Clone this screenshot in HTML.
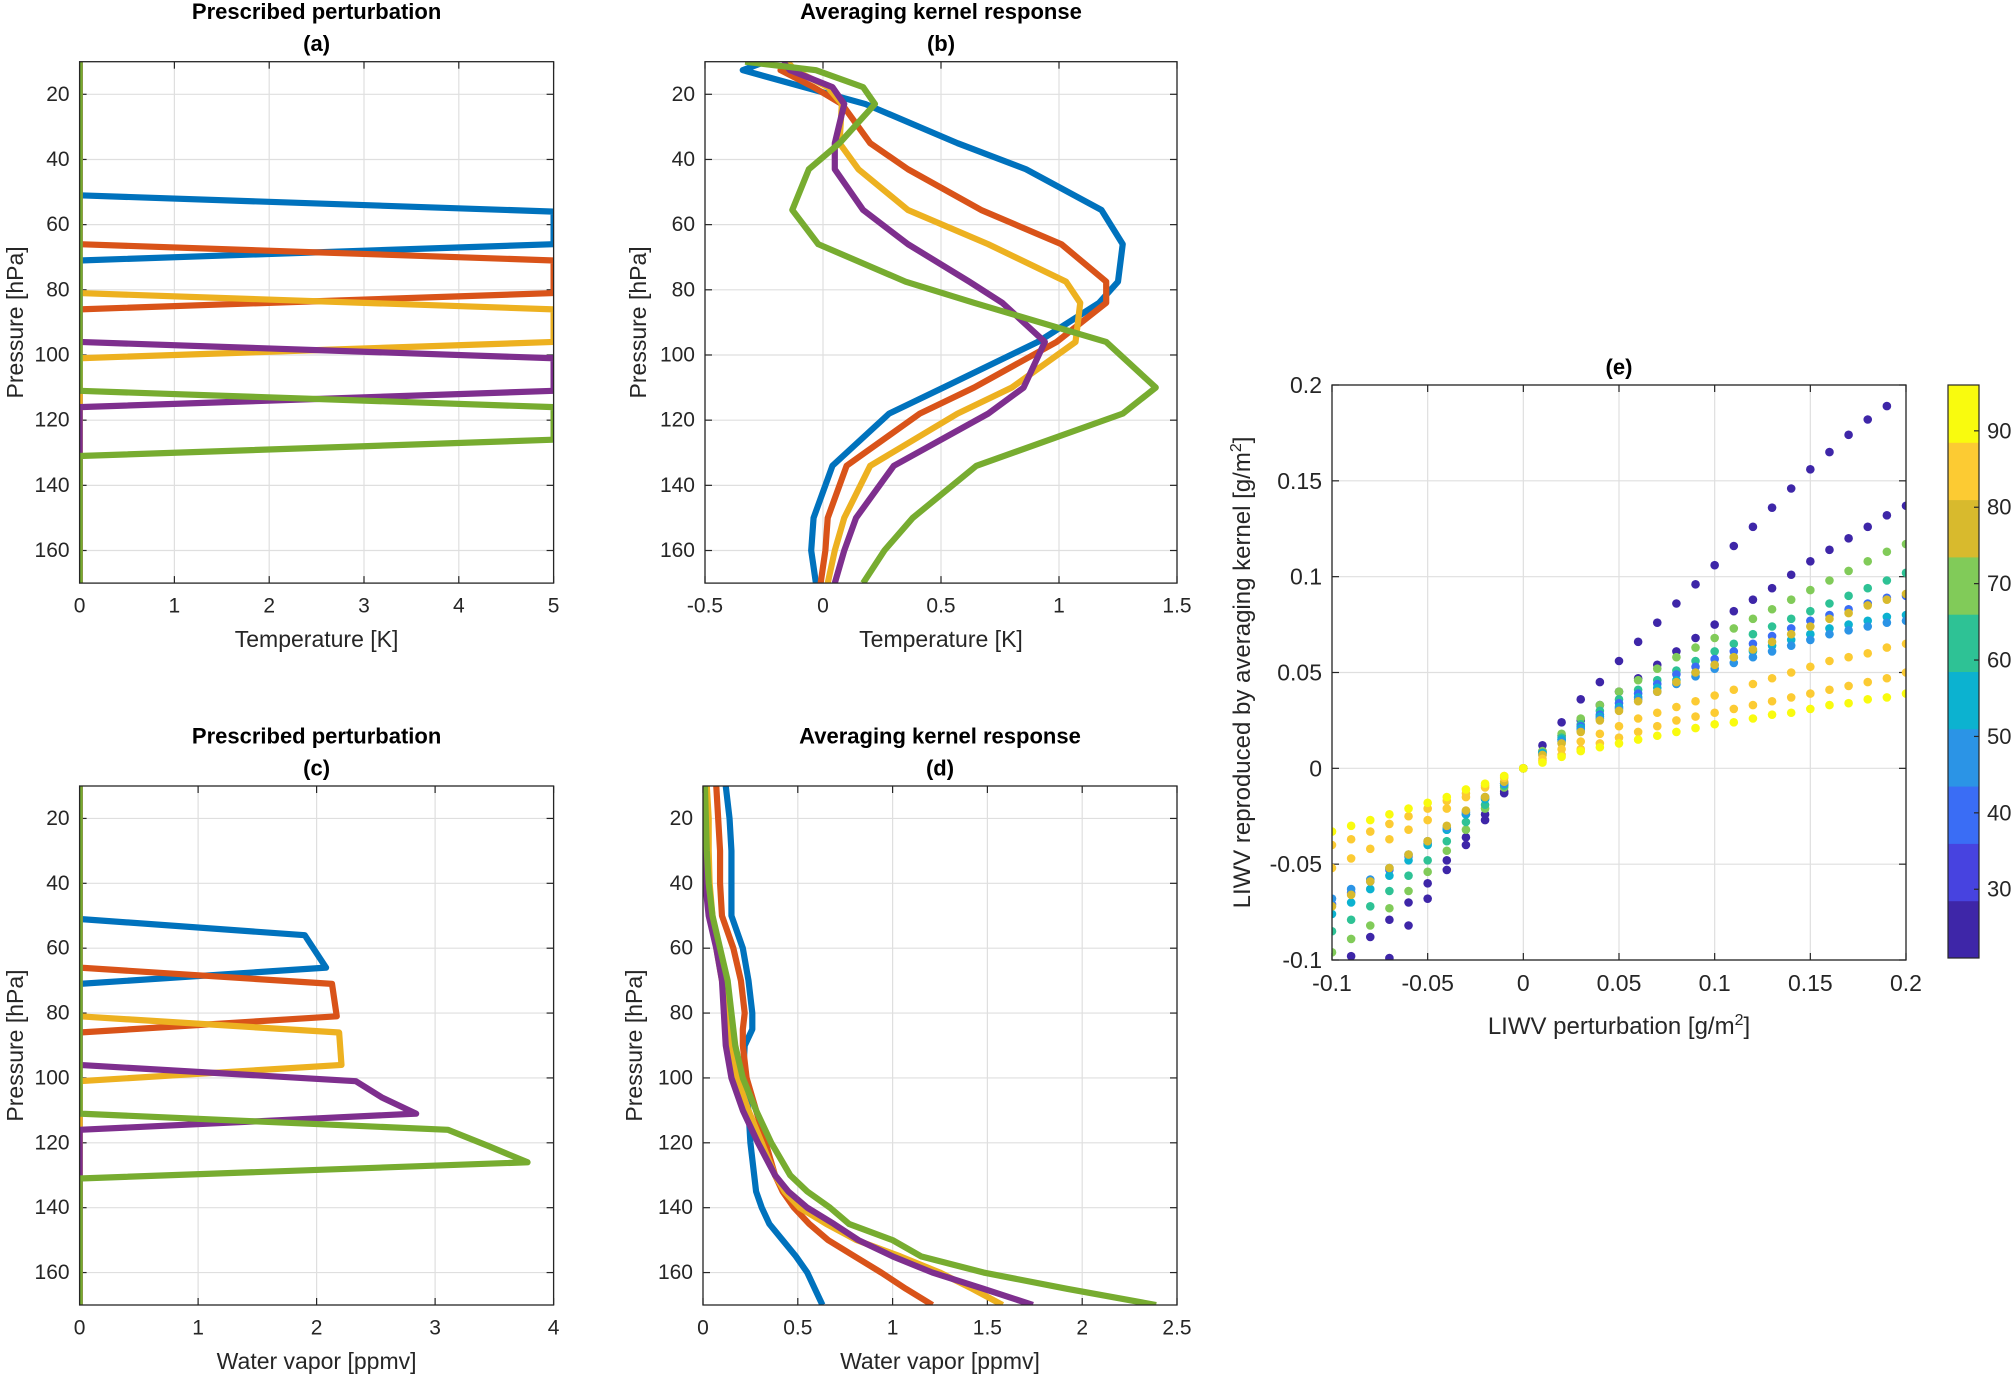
<!DOCTYPE html>
<html><head><meta charset="utf-8">
<style>
html,body{margin:0;padding:0;background:#fff;}
svg{display:block;font-family:"Liberation Sans",Arial,sans-serif;}
</style></head>
<body>
<svg id="fig" width="2014" height="1376" viewBox="0 0 2014 1376" xmlns="http://www.w3.org/2000/svg"></svg>
<script>
// ---------- data ----------
const lineColors = ['#0072bd','#d95319','#edb120','#7e2f8e','#77ac30'];
const seriesNames = ['blue','red','yellow','purple','green'];

// Panel a: temperature perturbation
const aP = [[10,51,56,66,71,170],[10,66,71,81,86,170],[10,81,86,96,101,170],[10,96,101,111,116,170],[10,111,116,126,131,170]];
const aV = [[0,0,5,5,0,0],[0,0,5,5,0,0],[0,0,5,5,0,0],[0,0,5,5,0,0],[0,0,5,5,0,0]];

// Panel b: averaging kernel temperature response
const bP = [10,12.6,17.8,23,35,43,55.5,66,77.5,84,96,110,118,134,150,160,170];
const bBlue   = [-0.245,-0.34,-0.08,0.18,0.57,0.86,1.18,1.27,1.25,1.17,0.91,0.51,0.28,0.04,-0.04,-0.05,-0.03];
const bRed    = [-0.14,-0.18,-0.04,0.08,0.2,0.36,0.67,1.01,1.2,1.2,0.99,0.64,0.41,0.10,0.02,0.01,-0.01];
const bYellow = [-0.15,-0.12,0.02,0.08,0.07,0.15,0.36,0.7,1.03,1.09,1.07,0.8,0.57,0.2,0.09,0.05,0.02];
const bPurple = [-0.17,-0.14,0.04,0.09,0.05,0.05,0.17,0.36,0.62,0.76,0.94,0.85,0.7,0.3,0.14,0.09,0.05];
const bGreen  = [-0.33,-0.03,0.17,0.22,0.07,-0.06,-0.13,-0.02,0.35,0.64,1.2,1.41,1.27,0.65,0.38,0.26,0.17];

// Panel c: water vapour perturbation
const cP = [[10,51,56,66,71,170],[10,66,71,81,86,170],[10,81,86,96,101,170],[10,96,101,106,111,116,170],[10,111,116,121,126,131,170]];
const cV = [[0,0,1.9,2.08,0,0],[0,0,2.13,2.17,0,0],[0,0,2.19,2.21,0,0],[0,0,2.33,2.55,2.84,0,0],[0,0,3.11,3.45,3.78,0,0]];

// Panel d: averaging kernel water vapour response
const dP = [10,20,30,40,50,60,70,80,85,90,100,110,120,130,135,140,145,150,155,160,165,170];
const dBlue   = [0.12,0.14,0.15,0.15,0.15,0.21,0.24,0.26,0.26,0.22,0.21,0.24,0.25,0.27,0.28,0.31,0.35,0.42,0.49,0.55,0.59,0.63];
const dRed    = [0.07,0.08,0.09,0.09,0.10,0.16,0.20,0.22,0.21,0.21,0.23,0.28,0.33,0.38,0.42,0.48,0.56,0.66,0.80,0.94,1.07,1.21];
const dYellow = [0.02,0.03,0.03,0.035,0.05,0.07,0.10,0.13,0.14,0.15,0.18,0.24,0.31,0.38,0.43,0.51,0.65,0.81,1.04,1.25,1.42,1.58];
const dPurple = [0.0,0.005,0.01,0.012,0.03,0.07,0.10,0.11,0.115,0.12,0.15,0.21,0.29,0.38,0.45,0.55,0.69,0.82,1.0,1.21,1.48,1.74];
const dGreen  = [0.01,0.015,0.02,0.03,0.05,0.09,0.13,0.15,0.16,0.17,0.21,0.28,0.36,0.46,0.55,0.67,0.77,1.0,1.15,1.48,1.92,2.39];

// Panel e: scatter
const eX = [-0.1,-0.09,-0.08,-0.07,-0.06,-0.05,-0.04,-0.03,-0.02,-0.01,0,0.01,0.02,0.03,0.04,0.05,0.06,0.07,0.08,0.09,0.1,0.11,0.12,0.13,0.14,0.15,0.16,0.17,0.18,0.19,0.2];
const eC = [23,26,70,62,38,54,47,76,84,86,93];
const eY = [
 [null,null,null,-0.099,-0.082,-0.068,-0.053,-0.040,-0.027,-0.013,0,0.012,0.024,0.036,0.045,0.056,0.066,0.076,0.086,0.096,0.106,0.116,0.126,0.136,0.146,0.156,0.165,0.174,0.182,0.189,null],
 [null,-0.098,-0.088,-0.079,-0.070,-0.060,-0.048,-0.036,-0.024,-0.012,0,0.009,0.017,0.025,0.033,0.040,0.047,0.054,0.061,0.068,0.075,0.082,0.088,0.094,0.101,0.108,0.114,0.120,0.126,0.132,0.137],
 [-0.096,-0.089,-0.082,-0.073,-0.064,-0.054,-0.043,-0.032,-0.021,-0.010,0,0.009,0.018,0.026,0.033,0.040,0.046,0.052,0.058,0.063,0.068,0.073,0.078,0.083,0.088,0.093,0.098,0.103,0.108,0.113,0.117],
 [-0.085,-0.079,-0.072,-0.064,-0.056,-0.048,-0.038,-0.028,-0.019,-0.009,0,0.008,0.016,0.023,0.030,0.036,0.041,0.046,0.051,0.056,0.061,0.065,0.070,0.074,0.078,0.082,0.086,0.090,0.094,0.098,0.102],
 [-0.071,-0.065,-0.059,-0.053,-0.046,-0.039,-0.032,-0.024,-0.016,-0.008,0,0.008,0.015,0.022,0.028,0.034,0.039,0.044,0.049,0.053,0.057,0.061,0.065,0.069,0.073,0.077,0.080,0.083,0.086,0.089,0.090],
 [-0.076,-0.070,-0.063,-0.056,-0.048,-0.040,-0.032,-0.024,-0.016,-0.008,0,0.008,0.015,0.021,0.027,0.032,0.037,0.042,0.046,0.050,0.054,0.058,0.061,0.064,0.067,0.070,0.073,0.075,0.077,0.079,0.080],
 [-0.068,-0.063,-0.058,-0.052,-0.045,-0.038,-0.031,-0.023,-0.015,-0.008,0,0.007,0.014,0.020,0.026,0.031,0.036,0.040,0.044,0.048,0.052,0.055,0.058,0.061,0.064,0.067,0.070,0.072,0.074,0.076,0.077],
 [-0.072,-0.066,-0.059,-0.052,-0.045,-0.038,-0.030,-0.022,-0.015,-0.007,0,0.007,0.013,0.019,0.025,0.030,0.035,0.040,0.045,0.050,0.054,0.058,0.062,0.066,0.070,0.074,0.078,0.081,0.085,0.088,0.091],
 [-0.052,-0.047,-0.042,-0.037,-0.032,-0.027,-0.021,-0.015,-0.010,-0.005,0,0.005,0.010,0.014,0.018,0.022,0.026,0.029,0.032,0.035,0.038,0.041,0.044,0.047,0.050,0.053,0.056,0.058,0.060,0.063,0.065],
 [-0.040,-0.037,-0.033,-0.029,-0.025,-0.021,-0.017,-0.013,-0.009,-0.004,0,0.004,0.007,0.010,0.013,0.016,0.019,0.022,0.025,0.027,0.029,0.031,0.033,0.035,0.037,0.039,0.041,0.043,0.045,0.047,0.050],
 [-0.033,-0.030,-0.027,-0.024,-0.021,-0.018,-0.015,-0.011,-0.008,-0.004,0,0.003,0.006,0.009,0.011,0.013,0.015,0.017,0.019,0.021,0.023,0.024,0.026,0.028,0.029,0.031,0.033,0.034,0.036,0.037,0.039]
];
const cbColors = ['#3e26a8','#4743e0','#3a6df5','#2b94e6','#0cb2d0','#2ec295','#81cb59','#d8ba2d','#fccb33','#f9fb0e'];
const cbMin = 21, cbMax = 96;
const cbTicks = [30,40,50,60,70,80,90];
const pTicks = [20,40,60,80,100,120,140,160];

// ---------- drawing ----------
const NS = 'http://www.w3.org/2000/svg';
const svg = document.getElementById('fig');
function mk(tag, attrs, parent){
  const e = document.createElementNS(NS, tag);
  for (const k in attrs) e.setAttribute(k, attrs[k]);
  (parent||svg).appendChild(e);
  return e;
}
function txt(s, x, y, size, opts, parent){
  const t = mk('text', Object.assign({x:x, y:y, 'font-size':size, fill:'#262626', 'text-anchor':'middle', 'dominant-baseline':'central'}, opts||{}), parent);
  t.textContent = s;
  return t;
}
let clipId = 0;
function axes(name, box, xmin, xmax, ymin, ymax, yrev, xticks, yticks, xfmt, yfmt, tfs){
  const g = mk('g', {});
  
  
  const sx = v => box.x0 + (v - xmin) / (xmax - xmin) * (box.x1 - box.x0);
  const sy = yrev ? (v => box.y0 + (v - ymin) / (ymax - ymin) * (box.y1 - box.y0))
                  : (v => box.y1 - (v - ymin) / (ymax - ymin) * (box.y1 - box.y0));
  const grid = mk('g', {stroke:'#dfdfdf', 'stroke-width':1.2}, g);
  
  
  xticks.forEach(v => { mk('line', {x1:sx(v), x2:sx(v), y1:box.y0, y2:box.y1}, grid); });
  yticks.forEach(v => { mk('line', {x1:box.x0, x2:box.x1, y1:sy(v), y2:sy(v)}, grid); });
  const tk = mk('g', {stroke:'#262626', 'stroke-width':1.2}, g);
  xticks.forEach(v => { mk('line', {x1:sx(v), x2:sx(v), y1:box.y1, y2:box.y1-7}, tk); mk('line', {x1:sx(v), x2:sx(v), y1:box.y0, y2:box.y0+7}, tk); });
  yticks.forEach(v => { mk('line', {x1:box.x0, x2:box.x0+7, y1:sy(v), y2:sy(v)}, tk); mk('line', {x1:box.x1, x2:box.x1-7, y1:sy(v), y2:sy(v)}, tk); });
  xticks.forEach(v => {
    const t = txt(xfmt(v), sx(v), box.y1 + 23, tfs, {}, g);
    
    
  });
  yticks.forEach(v => {
    const t = txt(yfmt(v), box.x0 - 10, sy(v), tfs, {'text-anchor':'end'}, g);
    
    
  });
  clipId++;
  const cp = mk('clipPath', {id:'clip'+clipId}, g);
  mk('rect', {x:box.x0, y:box.y0, width:box.x1-box.x0, height:box.y1-box.y0}, cp);
  const plot = mk('g', {'clip-path':'url(#clip'+clipId+')'}, g);
  
  
  return {g, plot, sx, sy, box};
}
function frame(ax){
  const r = mk('rect', {x:ax.box.x0, y:ax.box.y0, width:ax.box.x1-ax.box.x0, height:ax.box.y1-ax.box.y0, fill:'none', stroke:'#262626', 'stroke-width':1.3}, ax.g);
  
  
}
function profile(ax, P, V, color, nm){
  let d = '';
  P.forEach((p, i) => { d += (i ? 'L' : 'M') + ax.sx(V[i]).toFixed(2) + ',' + ax.sy(p).toFixed(2); });
  const path = mk('path', {d:d, fill:'none', stroke:color, 'stroke-width':6.2, 'stroke-linejoin':'round'}, ax.plot);
  
  
}
const f1 = v => String(v);
function titles(ax, l1, l2){
  const cx = (ax.box.x0 + ax.box.x1) / 2;
  const t1 = txt(l1, cx, ax.box.y0 - 50, 22, {'font-weight':'bold', fill:'#000'}, ax.g);
  
  
  const t2 = txt(l2, cx, ax.box.y0 - 18, 22, {'font-weight':'bold', fill:'#000'}, ax.g);
  
  
}
function xlab(ax, s){
  const t = txt(s, (ax.box.x0 + ax.box.x1) / 2, ax.box.y1 + 56, 23, {}, ax.g);
  
  
}
function ylabAt(ax, s, cx){
  const cy = (ax.box.y0 + ax.box.y1) / 2;
  const t = txt(s, cx, cy, 23, {transform:'rotate(-90 '+cx+' '+cy+')'}, ax.g);
  
  
}

// Panel a
const boxA = {x0:79.6, x1:553.6, y0:61.7, y1:583.1};
const axA = axes('panel-a', boxA, 0, 5, 10, 170, true, [0,1,2,3,4,5], pTicks, f1, f1, 21);
aP.forEach((P, i) => profile(axA, P, aV[i], lineColors[i], 'line-a-' + seriesNames[i]));
frame(axA); titles(axA, 'Prescribed perturbation', '(a)'); xlab(axA, 'Temperature [K]');
ylabAt(axA, 'Pressure [hPa]', 15);

// Panel b
const boxB = {x0:705, x1:1177, y0:61.7, y1:583.1};
const axB = axes('panel-b', boxB, -0.5, 1.5, 10, 170, true, [-0.5,0,0.5,1,1.5], pTicks, f1, f1, 21);
[bBlue,bRed,bYellow,bPurple,bGreen].forEach((V, i) => profile(axB, bP, V, lineColors[i], 'line-b-' + seriesNames[i]));
frame(axB); titles(axB, 'Averaging kernel response', '(b)'); xlab(axB, 'Temperature [K]');
ylabAt(axB, 'Pressure [hPa]', 638);

// Panel c
const boxC = {x0:79.6, x1:553.6, y0:786, y1:1305};
const axC = axes('panel-c', boxC, 0, 4, 10, 170, true, [0,1,2,3,4], pTicks, f1, f1, 21);
cP.forEach((P, i) => profile(axC, P, cV[i], lineColors[i], 'line-c-' + seriesNames[i]));
frame(axC); titles(axC, 'Prescribed perturbation', '(c)'); xlab(axC, 'Water vapor [ppmv]');
ylabAt(axC, 'Pressure [hPa]', 15);

// Panel d
const boxD = {x0:703, x1:1177, y0:786, y1:1305};
const axD = axes('panel-d', boxD, 0, 2.5, 10, 170, true, [0,0.5,1,1.5,2,2.5], pTicks, f1, f1, 21);
[dBlue,dRed,dYellow,dPurple,dGreen].forEach((V, i) => profile(axD, dP, V, lineColors[i], 'line-d-' + seriesNames[i]));
frame(axD); titles(axD, 'Averaging kernel response', '(d)'); xlab(axD, 'Water vapor [ppmv]');
ylabAt(axD, 'Pressure [hPa]', 634);

// Panel e
const boxE = {x0:1332, x1:1906, y0:385, y1:960};
const axE = axes('panel-e', boxE, -0.1, 0.2, -0.1, 0.2, false, [-0.1,-0.05,0,0.05,0.1,0.15,0.2], [-0.1,-0.05,0,0.05,0.1,0.15,0.2], f1, f1, 23);
function cmap(c){
  let k = Math.floor((c - cbMin) / (cbMax - cbMin) * cbColors.length);
  k = Math.max(0, Math.min(cbColors.length - 1, k));
  return cbColors[k];
}
eY.forEach((ys, si) => {
  ys.forEach((y, i) => {
    if (y === null) return;
    const dot = mk('circle', {cx:axE.sx(eX[i]), cy:axE.sy(y), r:4.3, fill:cmap(eC[si])}, axE.plot);
    
    
  });
});
frame(axE);
{ const t = txt('(e)', (boxE.x0+boxE.x1)/2, 367, 22, {'font-weight':'bold', fill:'#000'}, axE.g);   }
{ const t = mk('text', {x:(boxE.x0+boxE.x1)/2, y:1034, 'font-size':24, fill:'#262626', 'text-anchor':'middle'}, axE.g);
  t.innerHTML = 'LIWV perturbation [g/m<tspan dy="-9" font-size="16">2</tspan><tspan dy="9">]</tspan>';
    }
{ const cx = 1250, cy = (boxE.y0+boxE.y1)/2;
  const t = mk('text', {x:cx, y:cy, 'font-size':24, fill:'#262626', 'text-anchor':'middle', transform:'rotate(-90 '+cx+' '+cy+')'}, axE.g);
  t.innerHTML = 'LIWV reproduced by averaging kernel [g/m<tspan dy="-9" font-size="16">2</tspan><tspan dy="9">]</tspan>';
    }

// Colorbar
const cb = mk('g', {});


const cbBox = {x0:1948, x1:1979, y0:385, y1:958};
const cbY = v => cbBox.y1 - (v - cbMin) / (cbMax - cbMin) * (cbBox.y1 - cbBox.y0);
cbColors.forEach((col, i) => {
  const v0 = cbMin + i * (cbMax - cbMin) / cbColors.length;
  const v1 = cbMin + (i + 1) * (cbMax - cbMin) / cbColors.length;
  const r = mk('rect', {x:cbBox.x0, y:cbY(v1), width:cbBox.x1-cbBox.x0, height:cbY(v0)-cbY(v1)+0.5, fill:col}, cb);
  
  
});
mk('rect', {x:cbBox.x0, y:cbBox.y0, width:cbBox.x1-cbBox.x0, height:cbBox.y1-cbBox.y0, fill:'none', stroke:'#262626', 'stroke-width':1.2}, cb);
cbTicks.forEach(v => {
  mk('line', {x1:cbBox.x1, x2:cbBox.x1-5, y1:cbY(v), y2:cbY(v), stroke:'#262626', 'stroke-width':1.2}, cb);
  const t = txt(String(v), cbBox.x1 + 8, cbY(v), 22, {'text-anchor':'start'}, cb);
  
  
});
</script>
</body></html>
